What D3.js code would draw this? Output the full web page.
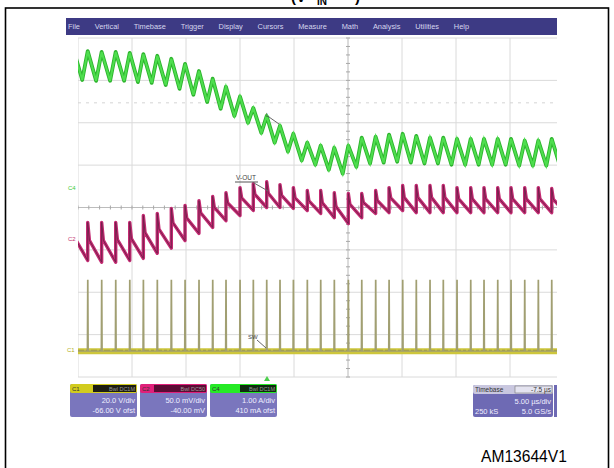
<!DOCTYPE html>
<html><head><meta charset="utf-8">
<script src="https://cdn.jsdelivr.net/npm/d3@7"></script>
<style>html,body{margin:0;padding:0;background:#fff;}svg{display:block;}</style>
</head><body>
<svg id="chart" width="614" height="468"></svg>
<script>
// ---- data read from the scope capture (time in µs from left screen edge, 5 µs/div; levels in divisions) ----
const pulseTimes = [-0.37, 0.90, 2.19, 3.49, 4.79, 6.05, 7.34, 8.64, 9.91, 11.20, 12.47, 13.70, 15.00, 16.23,
  17.47, 18.70, 19.94, 21.23, 22.47, 23.73, 25.03, 26.27, 27.56, 28.80, 30.06, 31.32, 32.59, 33.82, 35.09,
  36.36, 37.59, 38.86, 40.09, 41.36, 42.62, 43.86, 45.12];
// C4 inductor current (green)
const ilPeak = [3.69, 3.69, 3.67, 3.67, 3.65, 3.62, 3.58, 3.51, 3.39, 3.22, 3.04, 2.85, 2.62, 2.35, 2.16, 1.93,
  1.74, 1.53, 1.46, 1.41, 1.46, 1.65, 1.67, 1.72, 1.74, 1.69, 1.65, 1.65, 1.62, 1.62, 1.62, 1.62, 1.62, 1.58,
  1.58, 1.62, 1.62];
const ilValley = [3.04, 3.01, 2.99, 2.99, 2.99, 2.96, 2.94, 2.89, 2.80, 2.66, 2.49, 2.33, 2.16, 2.00, 1.76, 1.53,
  1.32, 1.11, 1.01, 0.89, 0.80, 0.96, 1.04, 1.06, 1.08, 1.06, 1.04, 1.04, 1.01, 1.01, 1.01, 1.01, 1.01, 0.99,
  0.99, 0.99, 0.99];
// C2 output voltage (magenta)
const voutPeak = [-0.35, -0.35, -0.35, -0.35, -0.35, -0.19, -0.14, -0.02, 0.05, 0.16, 0.26, 0.35, 0.47, 0.56,
  0.61, 0.54, 0.47, 0.40, 0.40, 0.35, 0.33, 0.33, 0.40, 0.47, 0.52, 0.52, 0.52, 0.52, 0.47, 0.47, 0.47, 0.47,
  0.47, 0.47, 0.47, 0.45, 0.45];
const voutValley = [-1.20, -1.25, -1.29, -1.29, -1.25, -1.20, -1.08, -0.96, -0.78, -0.61, -0.47, -0.31, -0.19,
  -0.07, 0.00, 0.00, -0.02, -0.07, -0.14, -0.24, -0.38, -0.24, -0.14, -0.12, -0.07, -0.12, -0.12, -0.12, -0.12,
  -0.12, -0.12, -0.12, -0.12, -0.12, -0.12, -0.12, -0.12];
// C1 switch node (yellow): low / high level
const swLevels = [-3.39, -1.72];
const triggerTime = 17.5;
const menuItems = ["File", "Vertical", "Timebase", "Trigger", "Display", "Cursors", "Measure", "Math", "Analysis", "Utilities", "Help"];
const channelNames = ["C1", "C2", "C4"];
const channelHeaders = ["Bwl DC1M", "Bwl DC50", "Bwl DC1M"];
const channelScales = ["20.0 V/div", "50.0 mV/div", "1.00 A/div"];
const channelOffsets = ["-66.00 V ofst", "-40.00 mV", "410 mA ofst"];
const timebaseTexts = ["Timebase", "-7.5 µs", "5.00 µs/div", "250 kS", "5.0 GS/s"];

// ---- drawing ----
const svg = d3.select("#chart");
const F = "'Liberation Sans', Arial, sans-serif";
const x = d3.scaleLinear().domain([0, 50]).range([78, 618]);
const y = d3.scaleLinear().domain([-4, 4]).range([377, 38]);
const xMaxVisible = x.invert(557);

svg.append("rect").attr("width", 614).attr("height", 468).attr("fill", "#fff");
// title remnant (cut at top, as in the source figure)
const title = svg.append("g").attr("font-family", F).attr("font-weight", "bold").attr("fill", "#000");
title.append("text").attr("x", 291).attr("y", 1.5).attr("font-size", 15).text("(V");
title.append("text").attr("x", 317).attr("y", 5).attr("font-size", 10).text("IN");
title.append("text").attr("x", 355).attr("y", 1.5).attr("font-size", 15).text(")");
// outer frame
svg.append("rect").attr("x", 5.5).attr("y", 8).attr("width", 603).attr("height", 470)
  .attr("fill", "none").attr("stroke", "#000").attr("stroke-width", 1.6);

// menu bar
svg.append("rect").attr("x", 66).attr("y", 18).attr("width", 491).attr("height", 17).attr("fill", "#3d3a84");
const menuG = svg.append("g").attr("font-family", F).attr("font-size", 7.4).attr("fill", "#d6d6ee");
const menuTexts = menuItems.map(m => menuG.append("text").attr("y", 28.5).text(m));
const widths = menuTexts.map(t => t.node().getComputedTextLength());
const menuStart = 68, menuEnd = 469;
const gap = (menuEnd - menuStart - d3.sum(widths)) / (menuItems.length - 1);
let mx = menuStart;
menuTexts.forEach((t, i) => { t.attr("x", mx); mx += widths[i] + gap; });

// grid
const clip = svg.append("defs").append("clipPath").attr("id", "plotclip");
clip.append("rect").attr("x", 78).attr("y", 37).attr("width", 557 - 78).attr("height", 341);
const grid = svg.append("g").attr("clip-path", "url(#plotclip)");
grid.selectAll("line.v").data(d3.range(0, 51, 5)).join("line")
  .attr("x1", d => x(d)).attr("x2", d => x(d)).attr("y1", y(4)).attr("y2", y(-4))
  .attr("stroke", d => d === 25 ? "#b8b8b8" : "#dadada").attr("stroke-width", 1);
grid.selectAll("line.h").data(d3.range(-4, 5, 1)).join("line")
  .attr("x1", x(0)).attr("x2", x(50)).attr("y1", d => y(d)).attr("y2", d => y(d))
  .attr("stroke", d => d === 0 ? "#bcbcbc" : "#dadada").attr("stroke-width", 1);
grid.append("line").attr("x1", x(0)).attr("x2", x(50)).attr("y1", y(2.47)).attr("y2", y(2.47))
  .attr("stroke", "#d4d4d4").attr("stroke-dasharray", "3,5");
// centre ticks
grid.selectAll("line.tx").data(d3.range(0, 50.01, 1)).join("line")
  .attr("x1", d => x(d)).attr("x2", d => x(d)).attr("y1", y(0) - 2).attr("y2", y(0) + 2)
  .attr("stroke", "#a8a8a8");
grid.selectAll("line.ty").data(d3.range(-4, 4.01, 0.2)).join("line")
  .attr("x1", x(25) - 2).attr("x2", x(25) + 2).attr("y1", d => y(d)).attr("y2", d => y(d))
  .attr("stroke", "#a8a8a8");

const line = d3.line().x(d => x(d[0])).y(d => y(d[1]));
const traces = svg.append("g").attr("clip-path", "url(#plotclip)");

// C1 switch node
traces.append("path").attr("d", line([[0, swLevels[0]], [xMaxVisible, swLevels[0]]]))
  .attr("stroke", "#cdc63c").attr("stroke-width", 6).attr("fill", "none");
traces.append("path").attr("d", line([[0, swLevels[0] + 0.02], [xMaxVisible, swLevels[0] + 0.02]]))
  .attr("stroke", "#9a9438").attr("stroke-width", 1).attr("stroke-dasharray", "6,2,3,2").attr("fill", "none");
const swPts = [];
pulseTimes.forEach(t => {
  swPts.push([t - 0.04, swLevels[0]], [t - 0.01, swLevels[1]], [t + 0.02, swLevels[1]], [t + 0.05, swLevels[0]]);
});
traces.append("path").attr("d", line(swPts)).attr("stroke", "#a19f72").attr("stroke-width", 1.4).attr("fill", "none");

// C2 output voltage
const voPts = [];
for (let i = 0; i < pulseTimes.length - 1; i++) {
  const t = pulseTimes[i], T = pulseTimes[i + 1] - t;
  voPts.push([t, voutValley[i]], [t, voutPeak[i]],
    [t + 0.12 * T, voutValley[i + 1] + 0.55 * (voutPeak[i] - voutValley[i + 1])]);
}
voPts.push([pulseTimes[pulseTimes.length - 1], voutValley[voutValley.length - 1]]);
traces.append("path").attr("d", line(voPts)).attr("stroke", "#c42a72").attr("stroke-width", 3.4)
  .attr("fill", "none").attr("stroke-linejoin", "round");
traces.append("path").attr("d", line(voPts)).attr("stroke", "#6c2048").attr("stroke-width", 0.9).attr("fill", "none");

// C4 inductor current
const ilPts = [];
pulseTimes.forEach((t, i) => {
  const T = i > 0 ? t - pulseTimes[i - 1] : pulseTimes[1] - t;
  ilPts.push([t - 0.4 * T, ilValley[i]], [t, ilPeak[i]]);
});
traces.append("path").attr("d", line(ilPts)).attr("stroke", "#2db42d").attr("stroke-width", 3.8)
  .attr("fill", "none").attr("stroke-linejoin", "round");
traces.append("path").attr("d", line(ilPts)).attr("stroke", "#4ede4e").attr("stroke-width", 2).attr("fill", "none");

// channel ground markers
const mk = svg.append("g").attr("font-family", F).attr("font-size", 6);
mk.append("text").attr("x", 68).attr("y", 190).attr("fill", "#3ccc3c").text("C4");
mk.append("text").attr("x", 68).attr("y", 241).attr("fill", "#c43070").text("C2");
mk.append("text").attr("x", 67).attr("y", 352).attr("fill", "#b4ae22").text("C1");

// annotations
const an = svg.append("g").attr("font-family", F).attr("font-size", 6.5).attr("fill", "#444");
an.append("text").attr("x", 236).attr("y", 180).text("V-OUT");
an.append("line").attr("x1", 235).attr("x2", 258).attr("y1", 182).attr("y2", 182).attr("stroke", "#555");
an.append("line").attr("x1", 254).attr("x2", 268).attr("y1", 183).attr("y2", 191).attr("stroke", "#666");
an.append("text").attr("x", 266).attr("y", 117).attr("font-size", 6).text("L");
an.append("line").attr("x1", 269).attr("x2", 279).attr("y1", 117).attr("y2", 124).attr("stroke", "#666");
an.append("text").attr("x", 248).attr("y", 339).attr("font-size", 6).text("SW");
an.append("line").attr("x1", 257).attr("x2", 266).attr("y1", 340).attr("y2", 348).attr("stroke", "#666");

// trigger marker
svg.append("path").attr("d", `M${x(triggerTime) - 3},381 L${x(triggerTime)},376 L${x(triggerTime) + 3},381 Z`)
  .attr("fill", "#4cd04c");

// channel boxes
const boxColors = ["#d2cc1e", "#e0207a", "#26ea26"];
const headDark = ["#1d1d12", "#5a0c34", "#0f2a0f"];
const boxX = [70, 140, 210];
const labelW = [23, 14, 30];
boxX.forEach((bx, i) => {
  const g = svg.append("g").attr("font-family", F);
  g.append("rect").attr("x", bx).attr("y", 384).attr("width", 67).attr("height", 33).attr("rx", 2).attr("fill", "#7a76bd");
  g.append("rect").attr("x", bx).attr("y", 384).attr("width", 67).attr("height", 9).attr("rx", 2).attr("fill", boxColors[i]);
  g.append("rect").attr("x", bx + labelW[i]).attr("y", 385).attr("width", 67 - labelW[i] - 1).attr("height", 7).attr("fill", headDark[i]);
  g.append("text").attr("x", bx + 2).attr("y", 391).attr("font-size", 6).attr("fill", "#333").text(channelNames[i]);
  g.append("text").attr("x", bx + 65).attr("y", 391).attr("font-size", 5.5).attr("text-anchor", "end")
    .attr("fill", "#9a9a9a").text(channelHeaders[i]);
  g.append("text").attr("x", bx + 65).attr("y", 403).attr("font-size", 7.5).attr("text-anchor", "end")
    .attr("fill", "#eeeeff").text(channelScales[i]);
  g.append("text").attr("x", bx + 65).attr("y", 413).attr("font-size", 7.5).attr("text-anchor", "end")
    .attr("fill", "#eeeeff").text(channelOffsets[i]);
});

// timebase box
const tb = svg.append("g").attr("font-family", F);
tb.append("rect").attr("x", 473).attr("y", 385).attr("width", 80).attr("height", 32).attr("rx", 2).attr("fill", "#6e6ab4");
tb.append("rect").attr("x", 473).attr("y", 385).attr("width", 80).attr("height", 9).attr("rx", 2).attr("fill", "#c9c7df");
tb.append("rect").attr("x", 515).attr("y", 386).attr("width", 37).attr("height", 7).attr("fill", "#e4e3f0").attr("stroke", "#777").attr("stroke-width", 0.6);
tb.append("text").attr("x", 475).attr("y", 392).attr("font-size", 6.5).attr("fill", "#333").text(timebaseTexts[0]);
tb.append("text").attr("x", 551).attr("y", 392).attr("font-size", 6.5).attr("text-anchor", "end").attr("fill", "#333").text(timebaseTexts[1]);
tb.append("text").attr("x", 551).attr("y", 404).attr("font-size", 7.5).attr("text-anchor", "end").attr("fill", "#eeeeff").text(timebaseTexts[2]);
tb.append("text").attr("x", 475).attr("y", 414).attr("font-size", 7.5).attr("fill", "#eeeeff").text(timebaseTexts[3]);
tb.append("text").attr("x", 551).attr("y", 414).attr("font-size", 7.5).attr("text-anchor", "end").attr("fill", "#eeeeff").text(timebaseTexts[4]);
tb.append("rect").attr("x", 554).attr("y", 385).attr("width", 3).attr("height", 32).attr("fill", "#6e6ab4");

// figure id
svg.append("text").attr("x", 481).attr("y", 462).attr("font-family", F).attr("font-size", 15.6)
  .attr("fill", "#000").text("AM13644V1");
</script>
</body></html>
